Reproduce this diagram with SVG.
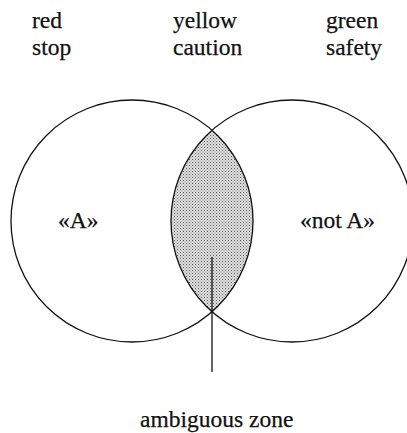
<svg xmlns="http://www.w3.org/2000/svg" width="407" height="433" viewBox="0 0 407 433">
<style>
.t{font-family:"Liberation Serif","Times New Roman",serif;font-size:23.5px;fill:#111;stroke:#111;stroke-width:0.25}
.c{fill:none;stroke:#111;stroke-width:1.3}
</style>
<defs>
<pattern id="dots" width="3" height="3" patternUnits="userSpaceOnUse">
<rect width="3" height="3" fill="#e2e2e2"/>
<rect x="0" y="0" width="1" height="1" fill="#555"/>
<rect x="1.5" y="1.5" width="1" height="1" fill="#777"/>
</pattern>
</defs>
<rect width="407" height="433" fill="#fff"/>
<g id="legend">
<text class="t" x="32" y="28">red</text>
<text class="t" x="32" y="55">stop</text>
<text class="t" x="173" y="28">yellow</text>
<text class="t" x="173" y="55">caution</text>
<text class="t" x="326" y="28">green</text>
<text class="t" x="326" y="55">safety</text>
</g>
<g id="lens">
<path d="M212 130.2 A121 121 0 0 0 212 311.8 A121 121 0 0 0 212 130.2 Z" fill="url(#dots)" stroke="none"/>
</g>
<g id="circle-A">
<circle class="c" cx="132" cy="221" r="121"/>
<text class="t" x="58" y="228">«A»</text>
</g>
<g id="circle-notA">
<circle class="c" cx="292" cy="221" r="121"/>
<text class="t" x="300" y="228">«not A»</text>
</g>
<g id="connectors">
<line x1="212" y1="257" x2="212" y2="372" stroke="#111" stroke-width="1.3"/>
</g>
<g id="label-ambiguous">
<text class="t" x="140" y="427">ambiguous zone</text>
</g>
</svg>
